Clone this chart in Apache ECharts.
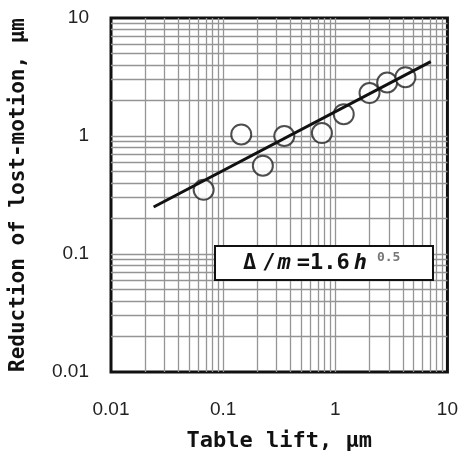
<!DOCTYPE html>
<html>
<head>
<meta charset="utf-8">
<script src="https://cdn.jsdelivr.net/npm/echarts@6/dist/echarts.min.js"></script>
<style>
	html, body { margin: 0; padding: 0; background: #fff; }
	#chart { width: 461px; height: 457px; }
</style>
</head>
<body>
<div id="chart"></div>
<script>
	// measured points (table lift h, reduction of lost-motion)
	var liftData = [0.067, 0.145, 0.226, 0.351, 0.76, 1.19, 2.02, 2.9, 4.22];
	var reductionData = [0.35, 1.03, 0.56, 1.0, 1.06, 1.53, 2.31, 2.84, 3.15];
	// fitted line Δ/m = 1.6 h^0.5, end points
	var fitX = [0.024, 7.1];
	var fitY = [0.25, 4.27];
	var decades = [0.01, 0.1, 1];
	var minorSteps = [2, 3, 4, 5, 6, 7, 8, 9];

	function chart() {
		var myChart = echarts.init(document.getElementById('chart'));

		var gridValues = [];
		decades.forEach(function(d, i) {
			if (i > 0) gridValues.push(d);
			minorSteps.forEach(function(s) {
				gridValues.push(+(d * s).toPrecision(3));
			});
		});
		var gridLines = [];
		gridValues.forEach(function(v) {
			gridLines.push({ xAxis: v });
			gridLines.push({ yAxis: v });
		});

		var points = liftData.map(function(x, i) { return [x, reductionData[i]]; });
		var fit = fitX.map(function(x, i) { return [x, fitY[i]]; });

		var monoFont = '"DejaVu Sans Mono", monospace';
		var option = {
			animation: false,
			grid: {
				left: 111, right: 13, top: 18, bottom: 84,
				show: true,
				borderColor: '#111',
				borderWidth: 3
			},
			xAxis: {
				type: 'log',
				logBase: 10,
				min: 0.01,
				max: 10,
				name: 'Table lift, μm',
				nameLocation: 'middle',
				nameGap: 58,
				nameTextStyle: { fontFamily: monoFont, fontWeight: 'bold', fontSize: 22, color: '#111' },
				axisLine: { show: false },
				axisTick: { show: false },
				splitLine: { show: false },
				axisLabel: {
					margin: 28,
					fontFamily: 'Liberation Sans',
					fontSize: 19,
					color: '#222',
					formatter: function(v) { return String(+v.toPrecision(3)); }
				}
			},
			yAxis: {
				type: 'log',
				logBase: 10,
				min: 0.01,
				max: 10,
				name: 'Reduction of lost-motion, μm',
				nameLocation: 'middle',
				nameGap: 82,
				nameTextStyle: { fontFamily: monoFont, fontWeight: 'bold', fontSize: 21, color: '#111' },
				axisLine: { show: false },
				axisTick: { show: false },
				splitLine: { show: false },
				axisLabel: {
					margin: 22,
					fontFamily: 'Liberation Sans',
					fontSize: 19,
					color: '#222',
					formatter: function(v) { return String(+v.toPrecision(3)); }
				}
			},
			series: [{
				name: 'grid',
				type: 'line',
				data: [],
				silent: true,
				z: 1,
				markLine: {
					silent: true,
					symbol: 'none',
					z: 1,
					label: { show: false },
					lineStyle: { color: '#959595', type: 'solid', width: 1.3 },
					data: gridLines
				}
			}, {
				name: 'measured',
				type: 'scatter',
				symbol: 'circle',
				symbolSize: 20,
				z: 6,
				itemStyle: {
					color: '#fff',
					borderColor: '#222',
					borderWidth: 2
				},
				data: points
			}, {
				name: 'fit',
				type: 'line',
				z: 7,
				symbol: 'none',
				lineStyle: { color: '#111', width: 3 },
				data: fit
			}],
			graphic: [{
				type: 'group',
				left: 214,
				top: 245,
				z: 100,
				children: [{
					type: 'rect',
					z: 100,
					shape: { x: 0, y: 0, width: 218, height: 34 },
					style: { fill: '#fff', stroke: '#111', lineWidth: 2 }
				}, {
					type: 'text',
					z: 101,
					x: 26,
					y: 17,
					style: {
						text: '{a|Δ}{b|/}{i|m}{a|=1.6}{i|h}{s|0.5}',
						verticalAlign: 'middle',
						rich: {
							a: { fontFamily: monoFont, fontWeight: 'bold', fontSize: 22, fill: '#111', padding: [0, 2, 0, 2] },
							b: { fontFamily: monoFont, fontWeight: 'bold', fontSize: 22, fill: '#111', padding: [0, 0, 0, 4] },
							i: { fontFamily: monoFont, fontWeight: 'bold', fontStyle: 'italic', fontSize: 22, fill: '#111', padding: [0, 4, 0, 2] },
							s: { fontFamily: monoFont, fontWeight: 'bold', fontSize: 13, fill: '#777', padding: [0, 0, 10, 6] }
						}
					}
				}]
			}]
		};
		myChart.setOption(option);
	}
	chart();
</script>
</body>
</html>
